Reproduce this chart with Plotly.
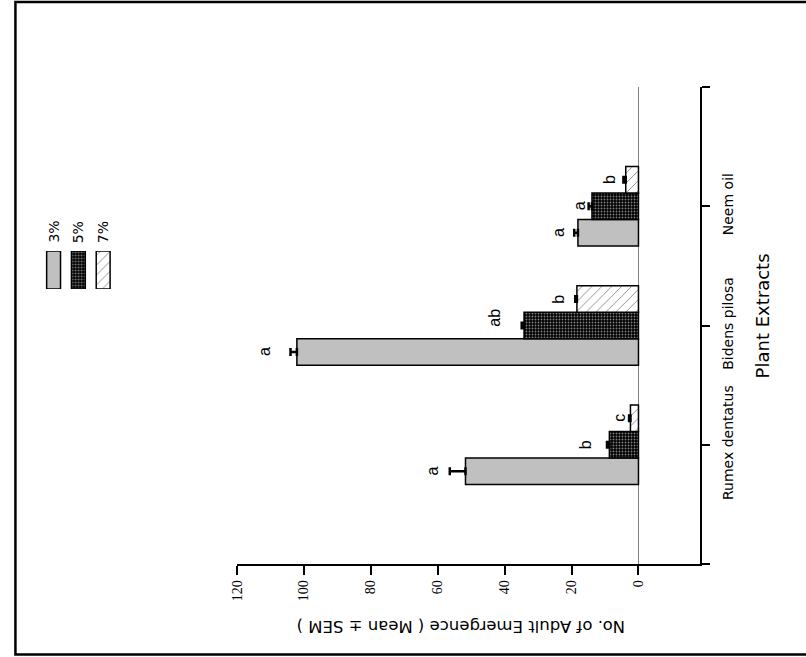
import plotly.graph_objects as go

# ---- data ----
categories = ["Rumex dentatus", "Bidens pilosa", "Neem oil"]
series_names = ["3%", "5%", "7%"]
mean_3 = [51.7, 102.1, 18.1]
mean_5 = [8.7, 34.2, 13.9]
mean_7 = [2.4, 18.4, 3.8]
sem_3 = [4.7, 1.9, 1.1]
sem_5 = [0.7, 0.7, 1.0]
sem_7 = [0.4, 0.5, 0.7]
letters_3 = ["a", "a", "a"]
letters_5 = ["b", "ab", "a"]
letters_7 = ["c", "b", "b"]
value_ticks = [0, 20, 40, 60, 80, 100, 120]

# label placement style (pixel gaps between error bar end and letter)
label_gap_3 = [9, 18, 6.5]
label_gap_5 = [13, 19, 1]
label_gap_7 = [1, 8, 4.7]
label_lift_5 = [0, 8, 0]

W, H = 806, 657
means = [mean_3, mean_5, mean_7]
sems = [sem_3, sem_5, sem_7]
letters = [letters_3, letters_5, letters_7]
gaps = [label_gap_3, label_gap_5, label_gap_7]
lifts = [[0, 0, 0], label_lift_5, [0, 0, 0]]

styles = [
    dict(color="#c0c0c0", line=dict(color="black", width=1.5)),
    dict(color="black", line=dict(color="black", width=1.5),
         pattern=dict(shape=".", fgcolor="white", bgcolor="black", size=3, solidity=0.3)),
    dict(color="white", line=dict(color="black", width=1.5),
         pattern=dict(shape="/", fgcolor="black", bgcolor="white", size=7, solidity=0.12)),
]

cat_pos = [i + 1 for i in range(len(categories))]
bargap = 0.333
bw = (1 - bargap) / 3

fig = go.Figure()
for i, name in enumerate(series_names):
    fig.add_trace(go.Bar(
        y=cat_pos, x=means[i], name=name, orientation="h",
        marker=styles[i],
        error_x=dict(type="data", array=sems[i], arrayminus=[0] * len(sems[i]),
                     symmetric=False, color="black", thickness=2.5, width=4),
        xaxis="x", yaxis="y", showlegend=False,
    ))

# legend swatches drawn as bars on a hidden small axis
for i, name in enumerate(series_names):
    fig.add_trace(go.Bar(
        x=[i], y=[1], marker=styles[i], width=0.56, offsetgroup="leg",
        xaxis="x2", yaxis="y2", showlegend=False, hoverinfo="skip",
    ))

annotations = []
for i in range(3):
    for j, c in enumerate(cat_pos):
        annotations.append(dict(
            x=means[i][j] + sems[i][j], y=c + (i - 1) * bw, xref="x", yref="y",
            text=letters[i][j], showarrow=False, textangle=-90,
            xanchor="right", yanchor="middle", xshift=2 - gaps[i][j], yshift=lifts[i][j],
            font=dict(family="Liberation Sans, Arial", size=16, color="black"),
        ))
for i, name in enumerate(series_names):
    annotations.append(dict(
        x=i, y=1, xref="x2", yref="y2", text=name, showarrow=False, textangle=-90,
        xanchor="center", yanchor="bottom", yshift=6,
        font=dict(family="DejaVu Sans", size=14, color="black"),
    ))
annotations.append(dict(
    x=458 / W, y=(H - 627) / H, xref="paper", yref="paper",
    text="No. of Adult Emergence ( Mean ± SEM )", showarrow=False, textangle=180,
    xanchor="center", yanchor="middle",
    font=dict(family="DejaVu Sans", size=16.5, color="black"),
))
annotations.append(dict(
    x=762 / W, y=(H - 316) / H, xref="paper", yref="paper",
    text="Plant Extracts", showarrow=False, textangle=-90,
    xanchor="center", yanchor="middle",
    font=dict(family="DejaVu Sans", size=18, color="black"),
))

x0p, x1p = 232, 699
y0p, y1p = 87, 564
px_per_unit = (637 - 232) / 120.0
xmin = -(x1p - 637) / px_per_unit

fig.update_layout(
    width=W, height=H, margin=dict(l=0, r=0, t=0, b=0),
    paper_bgcolor="white", plot_bgcolor="white",
    barmode="group", bargap=bargap, bargroupgap=0,
    xaxis=dict(domain=[x0p / W, x1p / W], range=[120, xmin],
               tickvals=value_ticks, ticktext=[str(v) for v in value_ticks],
               tickangle=-90, ticks="outside", ticklen=9, tickwidth=1.5, tickcolor="black",
               showline=True, linecolor="black", linewidth=1.5,
               showgrid=False, zeroline=True, zerolinecolor="#808080", zerolinewidth=1,
               tickfont=dict(family="Liberation Serif, Times New Roman", size=14, color="black"),
               anchor="y", fixedrange=True),
    yaxis=dict(domain=[(H - y1p) / H, (H - y0p) / H], range=[0, len(categories) + 1],
               side="right", anchor="x",
               tickvals=[0] + cat_pos + [len(categories) + 1],
               ticktext=[""] + categories + [""],
               tickangle=-90, ticks="outside", ticklen=8, tickwidth=1.5, tickcolor="black",
               showline=True, linecolor="black", linewidth=1.5,
               showgrid=False, zeroline=False, ticklabelstandoff=7,
               tickfont=dict(family="DejaVu Sans", size=14, color="black"), fixedrange=True),
    xaxis2=dict(domain=[34.5 / W, 109.5 / W], range=[-0.5, 2.5], visible=False,
                anchor="y2", fixedrange=True),
    yaxis2=dict(domain=[(H - 289) / H, (H - 251) / H], range=[0, 1], visible=False,
                anchor="x2", fixedrange=True),
    annotations=annotations,
    shapes=[
        dict(type="line", xref="paper", yref="paper", x0=x1p / W, x1=706 / W,
             y0=(H - y1p) / H, y1=(H - y1p) / H, line=dict(color="black", width=1.5)),
        dict(type="rect", xref="paper", yref="paper", x0=8.5 / W, x1=1.02,
             y0=(H - 654.5) / H, y1=(H - 2) / H, line=dict(color="black", width=2.5)),
    ],
)

fig.write_html(
    "out.html",
    config={"displayModeBar": False},
    post_script="document.body.style.margin='0';document.body.style.overflow='hidden';",
)
